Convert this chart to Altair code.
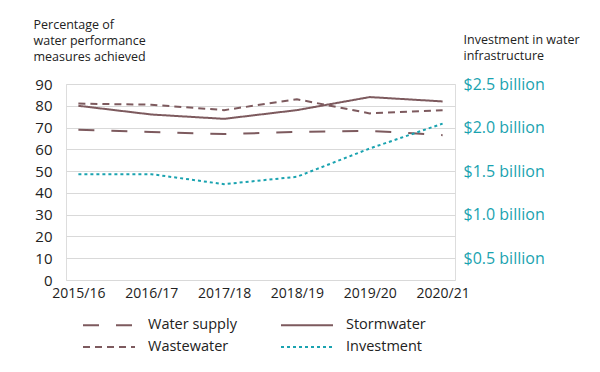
import altair as alt
import pandas as pd

years = ["2015/16", "2016/17", "2017/18", "2018/19", "2019/20", "2020/21"]
water_supply = [69, 68, 67, 68, 68.5, 66.5]
stormwater = [80, 76, 74, 78, 84, 82]
wastewater = [81, 80.5, 78, 83, 76.5, 78]
investment = [1.465, 1.465, 1.35, 1.435, 1.76, 2.045]  # $ billion

# legend fills column by column: col 1 = Water supply, Wastewater; col 2 = Stormwater, Investment
series_order = ["Water supply", "Wastewater", "Stormwater", "Investment"]
left_ticks = [0, 10, 20, 30, 40, 50, 60, 70, 80, 90]
right_ticks = [0.5, 1.0, 1.5, 2.0, 2.5]

BROWN = "#7d5a5e"
TEAL = "#1aa3b0"
FONT = "Open Sans"

rows = []
for name, vals in [("Water supply", water_supply), ("Stormwater", stormwater), ("Wastewater", wastewater)]:
    for y, v in zip(years, vals):
        rows.append({"year": y, "series": name, "value": v})
pct = pd.DataFrame(rows)
inv = pd.DataFrame({"year": years, "series": "Investment", "value": investment})

x_enc = alt.X("year:N", sort=years,
              scale=alt.Scale(type="point", padding=0.17),
              axis=alt.Axis(title=None, labelAngle=0, ticks=False, domain=False,
                            labelFontSize=14, labelColor="#222", labelPadding=6))

color = alt.Color("series:N",
                  scale=alt.Scale(domain=series_order, range=[BROWN, BROWN, BROWN, TEAL]),
                  legend=alt.Legend(title=None, orient="none", legendX=32, legendY=230,
                                    columns=2, symbolType="M-2.6,0L2.6,0", symbolSize=400,
                                    labelFontSize=14.5, labelColor="#222", labelOffset=28,
                                    columnPadding=40, rowPadding=4, labelFont=FONT))
dash = alt.StrokeDash("series:N",
                      scale=alt.Scale(domain=series_order, range=[[16, 17], [7, 5], [1, 0], [3, 3]]))
width = alt.StrokeWidth("series:N",
                        scale=alt.Scale(domain=series_order, range=[2, 2, 3, 2]))

left = alt.Chart(pct).mark_line().encode(
    x=x_enc,
    y=alt.Y("value:Q", scale=alt.Scale(domain=[0, 90], nice=False),
            axis=alt.Axis(values=left_ticks, grid=True, ticks=False, domain=False,
                          labelFontSize=15, labelColor="#222", labelPadding=14,
                          title=["Percentage of", "water performance", "measures achieved"],
                          titleAngle=0, titleAlign="left", titleBaseline="top",
                          titleX=-33, titleY=-66, titleFontSize=12.5, titleFontWeight="normal",
                          titleColor="#222", titleLineHeight=16)),
    color=color, strokeDash=dash, strokeWidth=width,
)

right = alt.Chart(inv).mark_line().encode(
    x=x_enc,
    y=alt.Y("value:Q", scale=alt.Scale(domain=[0.25, 2.5], nice=False, zero=False),
            axis=alt.Axis(orient="right", values=right_ticks, grid=False, ticks=False, domain=False,
                          labelExpr="'$' + format(datum.value, '.1f') + ' billion'",
                          labelFontSize=16, labelColor=TEAL, labelPadding=8,
                          title=["Investment in water", "infrastructure"],
                          titleAngle=0, titleAlign="left", titleBaseline="top",
                          titleX=8, titleY=-51, titleFontSize=12.5, titleFontWeight="normal",
                          titleColor="#222", titleLineHeight=16)),
    color=color, strokeDash=dash, strokeWidth=width,
)

chart = alt.layer(left, right).resolve_scale(y="independent").properties(
    width=389, height=196, padding={"left": 25, "top": 10, "right": 0, "bottom": 0}
).configure_view(stroke=None).configure(font=FONT).configure_axis(
    gridColor="#d9d9d9", gridWidth=1, labelFont=FONT, titleFont=FONT
)

chart.save("out.html", embed_options={"renderer": "svg", "actions": False})
